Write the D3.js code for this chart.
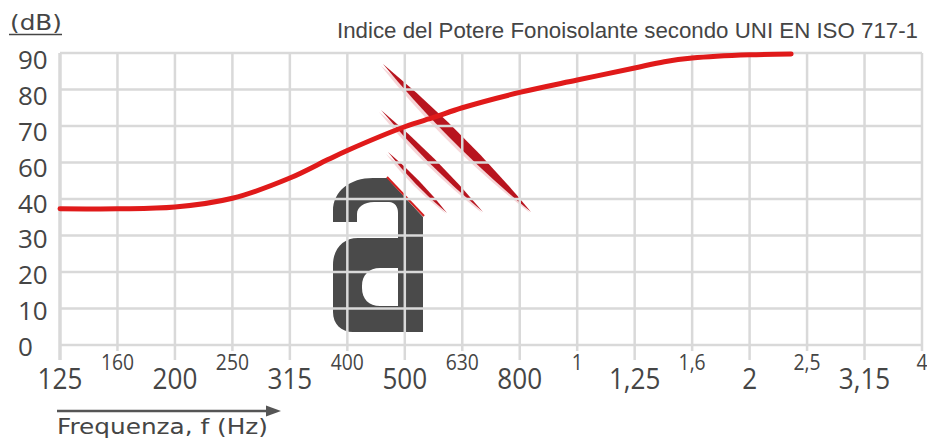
<!DOCTYPE html>
<html>
<head>
<meta charset="utf-8">
<script src="https://cdn.jsdelivr.net/npm/d3@7/dist/d3.min.js"></script>
<style>
  html, body { margin: 0; padding: 0; background: #fff; }
  svg { display: block; }
</style>
</head>
<body>
<svg id="chart" width="927" height="442"></svg>
<script>
// ---------- data ----------
const bandFreqs = [125, 160, 200, 250, 315, 400, 500, 630, 800, 1000, 1250, 1600, 2000, 2500, 3150, 4000];
const bandLabels = ["125", "160", "200", "250", "315", "400", "500", "630", "800", "1", "1,25", "1,6", "2", "2,5", "3,15", "4"];
const yTicks = [0, 10, 20, 30, 40, 60, 70, 80, 90];
const curveFreqs = [125, 160, 200, 250, 315, 369, 400, 500, 563, 630, 800, 1000, 1250, 1420, 1600, 2000, 2350];
const curveDb = [37.3, 37.3, 37.8, 40.4, 51.5, 60.8, 63.3, 69.8, 72.4, 75, 79.2, 82.6, 85.9, 87.6, 88.6, 89.5, 89.7];
const titleText = "Indice del Potere Fonoisolante secondo UNI EN ISO 717-1";
const unitText = "(dB)";
const xTitleText = "Frequenza, f (Hz)";

// ---------- layout ----------
const svg = d3.select("#chart");
const plotLeft = 60, plotRight = 922, plotTop = 53, plotBottom = 345;
const gridColor = "#d9d9d9";
const textColor = "#454545";

const x = d3.scaleLog()
  .domain(bandFreqs)
  .range(bandFreqs.map((d, i) => plotLeft + i * (plotRight - plotLeft) / (bandFreqs.length - 1)));
const y = d3.scaleLinear()
  .domain(yTicks)
  .range(yTicks.map((d, i) => plotBottom - i * (plotBottom - plotTop) / (yTicks.length - 1)));
const yLabelPos = d3.scalePoint().domain(yTicks).range([346, 59]);

// ---------- logo (decorative watermark, drawn under the grid) ----------
const logo = svg.append("g").attr("class", "logo");
const lens = (x1, y1, x2, y2, w) => {
  const mx = (x1 + x2) / 2, my = (y1 + y2) / 2;
  const dx = x2 - x1, dy = y2 - y1, L = Math.hypot(dx, dy);
  const nx = -dy / L * w, ny = dx / L * w;
  return `M${x1},${y1} Q${mx + nx},${my + ny} ${x2},${y2} Q${mx - nx},${my - ny} ${x1},${y1} Z`;
};
const slashes = [
  [383, 64, 531, 212, 10],
  [381, 110, 483, 212, 6.5],
  [388, 152, 447, 213, 4.5]
];
slashes.forEach(s => {
  logo.append("path").attr("d", lens(s[0] - 2, s[1] + 2, s[2] - 1, s[3] + 1, s[4] * 1.25))
    .attr("fill", "#e58a90").attr("opacity", 0.35);
  logo.append("path").attr("d", lens(s[0], s[1], s[2], s[3], s[4]))
    .attr("fill", "#b8141e");
});
logo.append("path")
  .attr("fill-rule", "evenodd")
  .attr("fill", "#4a4a4a")
  .attr("d",
    "M333,222 L357,222 L357,214 C357,207 364,202 374,202 L389,202 C395,202 398,207 398,213 L398,238 " +
    "L358,238 C342,238 333,250 333,265 L333,312 C333,324 341,332 353,332 L423,332 L423,217 L387,178 L373,178 " +
    "C350,178 333,191 333,211 Z " +
    "M380,268 L398,268 L398,306 L380,306 C369,306 362,299 362,288 L362,286 C362,275 369,268 380,268 Z");
logo.append("line").attr("x1", 387).attr("y1", 177).attr("x2", 424).attr("y2", 216)
  .attr("stroke", "#d42020").attr("stroke-width", 2);

// ---------- grid (over the logo) ----------
const grid = svg.append("g").attr("class", "grid");
grid.selectAll("line.h").data(yTicks).join("line")
  .attr("class", "h")
  .attr("x1", plotLeft).attr("x2", plotRight)
  .attr("y1", d => y(d)).attr("y2", d => y(d))
  .attr("stroke", gridColor).attr("stroke-width", 2.5);
grid.selectAll("line.v").data(bandFreqs).join("line")
  .attr("class", "v")
  .attr("x1", d => x(d)).attr("x2", d => x(d))
  .attr("y1", plotTop).attr("y2", (d, i) => plotBottom + (i % 2 === 0 ? 15 : 6))
  .attr("stroke", gridColor).attr("stroke-width", (d, i) => i === 0 ? 3.5 : 2.5);

// ---------- y labels ----------
svg.append("g").selectAll("text").data(yTicks).join("text")
  .attr("x", 18).attr("y", d => yLabelPos(d))
  .attr("dominant-baseline", "central")
  .attr("font-family", "'Open Sans', sans-serif")
  .attr("font-size", 26)
  .attr("fill", textColor)
  .text(d => d);

// ---------- x labels ----------
svg.append("g").selectAll("text").data(bandFreqs).join("text")
  .attr("transform", (d, i) => `translate(${x(d)},${i % 2 === 0 ? 389 : 370}) scale(${i % 2 === 0 ? 0.87 : 0.92},1)`)
  .attr("text-anchor", "middle")
  .attr("font-family", "'Open Sans', sans-serif")
  .attr("font-size", (d, i) => i % 2 === 0 ? 30 : 21)
  .attr("fill", textColor)
  .text((d, i) => bandLabels[i]);

// ---------- curve ----------
const line = d3.line()
  .x((d, i) => x(curveFreqs[i]))
  .y(d => y(d))
  .curve(d3.curveCatmullRom.alpha(0.5));
svg.append("path")
  .attr("d", line(curveDb))
  .attr("fill", "none")
  .attr("stroke", "#e01a1a")
  .attr("stroke-width", 5)
  .attr("stroke-linecap", "round")
  .attr("stroke-linejoin", "round");

// ---------- texts ----------
svg.append("text")
  .attr("x", 918).attr("y", 38)
  .attr("text-anchor", "end")
  .attr("font-family", "'Liberation Sans', Arial, sans-serif")
  .attr("font-size", 22)
  .attr("textLength", 581)
  .attr("lengthAdjust", "spacingAndGlyphs")
  .attr("fill", textColor)
  .text(titleText);

svg.append("text")
  .attr("x", 10).attr("y", 30)
  .attr("font-family", "'DejaVu Sans', sans-serif")
  .attr("font-size", 22)
  .attr("textLength", 52)
  .attr("lengthAdjust", "spacingAndGlyphs")
  .attr("fill", textColor)
  .text(unitText);
svg.append("line").attr("x1", 9).attr("x2", 62).attr("y1", 34.5).attr("y2", 34.5)
  .attr("stroke", textColor).attr("stroke-width", 1.6);

// arrow + axis title
svg.append("line").attr("x1", 57).attr("x2", 268).attr("y1", 411).attr("y2", 411)
  .attr("stroke", "#555").attr("stroke-width", 2.5);
svg.append("path").attr("d", "M266,405.5 L281,411 L266,416.5 Z").attr("fill", "#555");
svg.append("text")
  .attr("x", 57).attr("y", 434)
  .attr("font-family", "'DejaVu Sans', Verdana, sans-serif")
  .attr("font-size", 22)
  .attr("textLength", 211)
  .attr("lengthAdjust", "spacingAndGlyphs")
  .attr("fill", textColor)
  .text(xTitleText);
</script>
</body>
</html>
